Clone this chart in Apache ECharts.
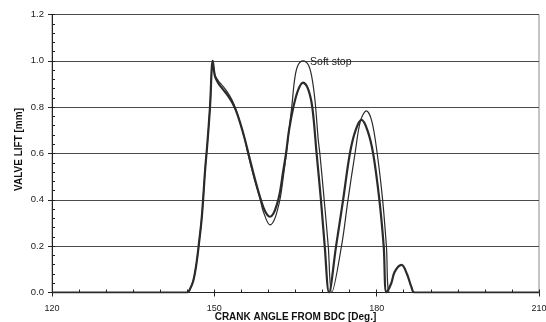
<!DOCTYPE html>
<html>
<head>
<meta charset="utf-8">
<script src="https://cdn.jsdelivr.net/npm/echarts@6/dist/echarts.min.js"></script>
<style>
  html, body { margin: 0; padding: 0; background: #fff; }
  #chart { width: 546px; height: 322px; }
</style>
</head>
<body>
<div id="chart"></div>
<script>
// Crank angle axis ticks and valve lift axis ticks
const xTicks = [120, 150, 180, 210];
const yTicks = [0.0, 0.2, 0.4, 0.6, 0.8, 1.0, 1.2];

// Baseline valve lift: crank angle [deg] and lift [mm]
const baseAngle = [120, 145.0, 145.5, 146.1, 146.6, 147.1, 147.7, 148.3, 148.7, 149.2, 149.7,
  150.1, 150.7, 151.6, 152.5, 153.3, 154.0, 154.8, 155.6, 156.3, 157.5, 158.6, 159.4, 160.3,
  160.9, 161.5, 162.1, 162.7, 163.25, 163.8, 164.6, 165.5, 166.4, 167.3, 168.1, 168.9, 169.7, 170.4, 171.2,
  172.5, 173.8, 175.05, 176.1, 177.2, 178.3, 179.35, 180.5, 181.3, 181.8,
  182.7, 183.35, 184.6, 185.6, 186.4, 187.0, 210];
const baseLift = [0, 0, 0.015, 0.05, 0.11, 0.2, 0.33, 0.53, 0.64, 0.8, 1.0,
  0.935, 0.905, 0.877, 0.85, 0.82, 0.785, 0.73, 0.665, 0.6, 0.49, 0.4, 0.35, 0.327,
  0.34, 0.375, 0.43, 0.52, 0.6, 0.7, 0.8, 0.875, 0.906, 0.88, 0.8, 0.6, 0.4, 0.2, 0,
  0.2, 0.4, 0.6, 0.7, 0.745, 0.7, 0.6, 0.4, 0.2, 0,
  0.04, 0.09, 0.119, 0.08, 0.025, 0, 0];

// Soft-stop valve lift
const softAngle = [120, 145.0, 145.5, 146.1, 146.6, 147.1, 147.7, 148.3, 148.7, 149.2, 149.7,
  150.1, 150.7, 151.6, 152.5, 153.3, 154.0, 154.8, 155.6, 156.2, 157.4, 158.5, 159.05, 160.3,
  161.0, 161.6, 162.2, 162.75, 163.3, 163.8, 164.3, 164.9, 165.5, 166.4, 167.36, 168.0, 168.6, 169.2, 169.5,
  170.3, 171.05, 171.7, 173.5, 174.7, 176.0, 177.0, 178.1, 179.1, 180.1, 181.1, 181.8, 182.4, 210];
const softLift = [0, 0, 0.015, 0.05, 0.11, 0.2, 0.33, 0.53, 0.64, 0.8, 1.0,
  0.94, 0.915, 0.89, 0.862, 0.83, 0.79, 0.73, 0.665, 0.6, 0.49, 0.4, 0.35, 0.292,
  0.31, 0.35, 0.41, 0.5, 0.6, 0.7, 0.8, 0.93, 0.983, 1.0, 0.983, 0.932, 0.83, 0.66, 0.6,
  0.4, 0.2, 0, 0.2, 0.4, 0.6, 0.74, 0.784, 0.74, 0.6, 0.4, 0.2, 0, 0];

const softLabel = 'Soft stop';

const pairs = (xs, ys) => xs.map((x, i) => [x, ys[i]]);
// second lift event of the soft-stop curve carries the annotation
const softPeakIdx = softLift.indexOf(Math.max(...softLift.slice(20)), 20);

const lineColor = '#2b2b2b';
const font = 'Liberation Sans, Arial, sans-serif';

const chart = echarts.init(document.getElementById('chart'), null, { renderer: 'canvas' });

const baseX = {
  type: 'value', min: xTicks[0], max: xTicks[xTicks.length - 1], interval: 30,
  position: 'bottom'
};
const baseY = {
  type: 'value', min: yTicks[0], max: yTicks[yTicks.length - 1], interval: 0.2,
  position: 'left'
};

chart.setOption({
  animation: false,
  backgroundColor: '#fff',
  grid: {
    left: 52, right: 7, top: 14.5, bottom: 29.5,
    containLabel: false, outerBoundsMode: 'none',
    show: true, borderColor: '#8a8a8a', borderWidth: 1, backgroundColor: 'transparent'
  },
  xAxis: [
    Object.assign({}, baseX, {
      name: 'CRANK ANGLE FROM BDC [Deg.]',
      nameLocation: 'middle', nameGap: 20, nameMoveOverlap: false,
      nameTextStyle: { fontFamily: font, fontSize: 10, fontWeight: 'bold', color: '#111' },
      axisLine: { show: true, onZero: false, lineStyle: { color: '#222', width: 1 } },
      axisTick: { show: true, length: 4, lineStyle: { color: '#222' } },
      minorTick: { show: false },
      splitLine: { show: false },
      axisLabel: {
        margin: 12, fontFamily: font, fontSize: 9, color: '#222',
        formatter: v => xTicks.includes(v) ? String(v) : ''
      }
    }),
    Object.assign({}, baseX, {
      axisLine: { show: false },
      axisTick: { show: true, inside: true, length: 3, lineStyle: { color: '#222' } },
      minorTick: { show: true, splitNumber: 6, length: 3, lineStyle: { color: '#222' } },
      splitLine: { show: false },
      axisLabel: { show: false }
    })
  ],
  yAxis: [
    Object.assign({}, baseY, {
      name: 'VALVE LIFT [mm]',
      nameLocation: 'middle', nameGap: 28, nameRotate: 90, nameMoveOverlap: false,
      nameTextStyle: {
        fontFamily: font, fontSize: 10, fontWeight: 'bold', color: '#111',
        padding: [0, 0, 0, 8]
      },
      axisLine: { show: true, onZero: false, lineStyle: { color: '#222', width: 1 } },
      axisTick: { show: true, length: 4, lineStyle: { color: '#222' } },
      minorTick: { show: false },
      splitLine: { show: true, lineStyle: { color: '#4a4a4a', width: 1 } },
      axisLabel: {
        margin: 8, fontFamily: font, fontSize: 9.5, color: '#222',
        formatter: v => v.toFixed(1)
      }
    }),
    Object.assign({}, baseY, {
      axisLine: { show: false },
      axisTick: { show: true, inside: true, length: 3, lineStyle: { color: '#222' } },
      minorTick: { show: true, splitNumber: 5, length: 3, lineStyle: { color: '#222' } },
      splitLine: { show: false },
      axisLabel: { show: false }
    })
  ],
  series: [
    {
      name: 'Baseline', type: 'line', xAxisIndex: 0, yAxisIndex: 0,
      data: pairs(baseAngle, baseLift),
      showSymbol: false, smooth: 0.35,
      lineStyle: { color: lineColor, width: 2.2 },
      z: 3
    },
    {
      name: softLabel, type: 'line', xAxisIndex: 0, yAxisIndex: 0,
      data: pairs(softAngle, softLift),
      showSymbol: false, smooth: 0.35,
      lineStyle: { color: lineColor, width: 1.2 },
      z: 4,
      markPoint: {
        symbol: 'circle', symbolSize: 2,
        itemStyle: { color: 'rgba(0,0,0,0)' },
        data: [{
          coord: [softAngle[softPeakIdx], softLift[softPeakIdx]],
          itemStyle: { color: 'rgba(0,0,0,0)' }
        }],
        label: {
          show: true, position: 'right', distance: 6, offset: [0, 1.5],
          formatter: softLabel,
          fontFamily: font, fontSize: 10.5, color: '#222'
        }
      }
    }
  ]
});
</script>
</body>
</html>
